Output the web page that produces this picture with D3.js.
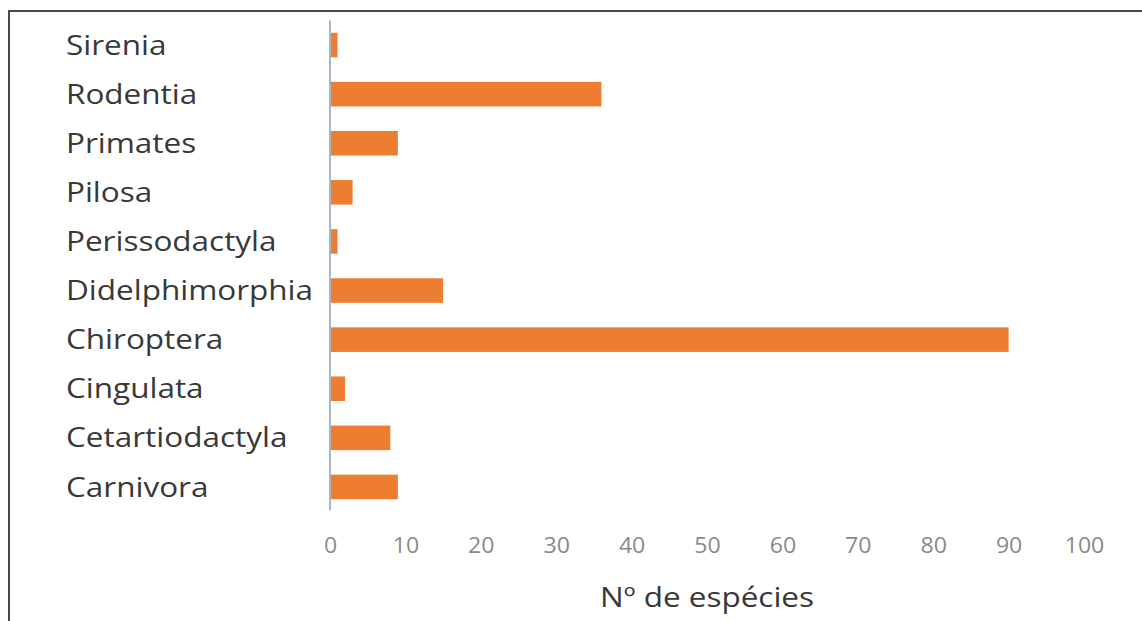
<!DOCTYPE html>
<html>
<head>
<meta charset="utf-8">
<script src="https://cdn.jsdelivr.net/npm/d3@7"></script>
<style>
  html, body { margin: 0; padding: 0; background: #fff; }
  svg { display: block; }
</style>
</head>
<body>
<svg id="chart" width="1142" height="621"></svg>
<script>
const categories = ["Carnivora", "Cetartiodactyla", "Cingulata", "Chiroptera", "Didelphimorphia",
                    "Perissodactyla", "Pilosa", "Primates", "Rodentia", "Sirenia"];
const species = [9, 8, 2, 90, 15, 1, 3, 9, 36, 1];
const tickValues = [0, 10, 20, 30, 40, 50, 60, 70, 80, 90, 100];
const axisTitle = "Nº de espécies";

const svg = d3.select("#chart");
const W = 1142, H = 621;
svg.append("rect").attr("width", W).attr("height", H).attr("fill", "#ffffff");

// frame (cut-off figure box)
svg.append("path")
  .attr("d", `M9,${H + 5} L9,11 L${W + 5},11`)
  .attr("fill", "none").attr("stroke", "#4a4a4a").attr("stroke-width", 2);

const x = d3.scaleLinear().domain([0, 100]).range([330, 1084]);
const y = d3.scaleBand().domain(categories.slice().reverse())
  .range([20.5, 511.5]).paddingInner(0.5).paddingOuter(0.25);

const font = "'Open Sans', sans-serif";
const sx = 1.175; // horizontal stretch of the reference text

// bars
svg.append("g").selectAll("rect").data(categories).join("rect")
  .attr("x", x(0))
  .attr("y", d => y(d))
  .attr("width", (d, i) => x(species[i]) - x(0))
  .attr("height", y.bandwidth())
  .attr("fill", "#ED7D31");

// vertical axis line
svg.append("line")
  .attr("x1", x(0)).attr("x2", x(0))
  .attr("y1", y.range()[0]).attr("y2", y.range()[1] - 1)
  .attr("stroke", "#a9b6c8").attr("stroke-width", 2);

// category labels
const lfs = 26.8;
svg.append("g").selectAll("text").data(categories).join("text")
  .attr("transform", d => `translate(66,${y(d) + y.bandwidth() / 2 + 0.357 * lfs}) scale(${sx},1)`)
  .attr("font-family", font).attr("font-size", lfs)
  .attr("fill", "#383838")
  .text(d => d);

// x axis tick labels
const xAxis = d3.axisBottom(x).tickValues(tickValues).tickSize(0).tickPadding(0);
const gx = svg.append("g").call(xAxis);
gx.select(".domain").remove();
gx.selectAll(".tick text")
  .attr("y", 0).attr("dy", null)
  .attr("transform", `translate(0,553) scale(1.1,1)`)
  .attr("font-family", font).attr("font-size", 21)
  .attr("fill", "#8a8a8a");

// axis title
svg.append("text")
  .attr("transform", `translate(${x(50)},607) scale(${sx},1)`)
  .attr("text-anchor", "middle")
  .attr("font-family", font).attr("font-size", lfs)
  .attr("fill", "#383838")
  .text(axisTitle);
</script>
</body>
</html>
